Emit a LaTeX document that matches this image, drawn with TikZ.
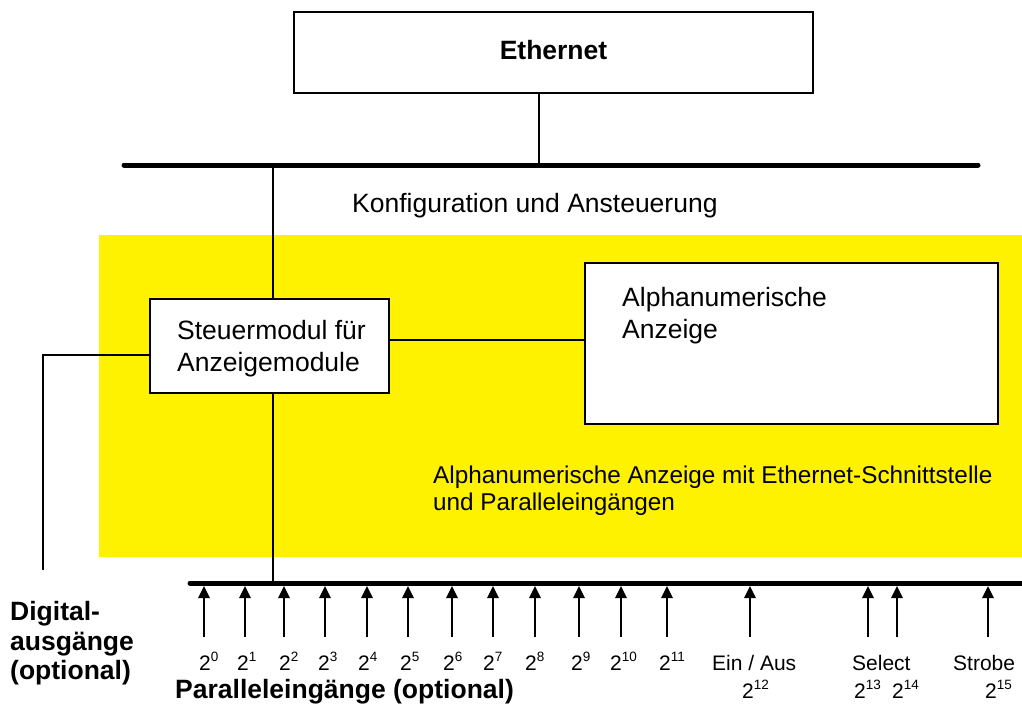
\documentclass[tikz,border=0pt]{standalone}
\usepackage{fontspec}
\setmainfont{Liberation Sans}
\usetikzlibrary{arrows.meta}
\newcommand\myexp[1]{\raisebox{0.42em}{\fontsize{13.5}{13.5}\selectfont #1}}
\begin{document}
\begin{tikzpicture}[x=1pt,y=-1pt,
  conn/.style={line width=2pt},
  bus/.style={line width=5pt,line cap=round},
  boxst/.style={draw,line width=2.6pt,fill=white,inner sep=0pt},
  txt/.style={font=\fontsize{26.5}{32}\selectfont,inner sep=0pt},
  lbl/.style={font=\fontsize{21}{25}\selectfont,inner sep=0pt,anchor=base west},
  boldlbl/.style={font=\fontsize{26.5}{30}\selectfont\bfseries,inner sep=0pt,anchor=base west},
  inarrow/.style={line width=2.6pt,-{Triangle[length=12pt,width=11pt]}}]
\useasboundingbox (0,0) rectangle (1022,706);
% yellow area
\fill[yellow] (99,235) rectangle (1022,557);
% Ethernet
\node[boxst,minimum width=519pt,minimum height=81pt] (eth) at (553.5,52.5) {};
\node[font=\fontsize{26.5}{30}\selectfont\bfseries,inner sep=0pt,anchor=base] (ethtxt) at (553.5,60) {Ethernet};
% top bus
\coordinate (tbL) at (124,165);
\coordinate (tbR) at (978,165);
\draw[bus] (tbL) -- (tbR);
\coordinate (ethdrop) at (539,165);
\draw[conn] (eth.south -| ethdrop) -- (ethdrop);
\node[txt,anchor=base west] (konf) at (352,212) {Konfiguration und Ansteuerung};
% Steuermodul
\node[boxst,minimum width=239pt,minimum height=94pt] (steuer) at (269.5,346) {};
\node[txt,anchor=base west] (steuer1) at (177,339) {Steuermodul für};
\node[txt,anchor=base west] (steuer2) at (177,371) {Anzeigemodule};
% Alphanumerische Anzeige box
\node[boxst,minimum width=413pt,minimum height=161pt] (alpha) at (791.5,343.5) {};
\node[txt,anchor=base west] (alpha1) at (622,306) {Alphanumerische};
\node[txt,anchor=base west] (alpha2) at (622,338) {Anzeige};
\node[font=\fontsize{24.3}{28}\selectfont,inner sep=0pt,anchor=base west] (group1) at (433,483) {Alphanumerische Anzeige mit Ethernet-Schnittstelle};
\node[font=\fontsize{24.3}{28}\selectfont,inner sep=0pt,anchor=base west] (group2) at (433,510) {und Paralleleingängen};
% bottom bus
\coordinate (bbL) at (190,583);
\coordinate (bbR) at (1024,583);
\draw[bus] (bbL) -- (bbR);
% connections of Steuermodul
\coordinate (up) at (273,165);
\coordinate (down) at (273,583);
\draw[conn] (up) -- (steuer.north -| up);
\draw[conn] (steuer.south -| down) -- (down);
\coordinate (sr) at (389,340);
\draw[conn] (steuer.east |- sr) -- (alpha.west |- sr);
\coordinate (dcorner) at (43,355);
\coordinate (dend) at (43,570);
\draw[conn] (steuer.west |- dcorner) -- (dcorner) -- (dend);
% Digitalausgaenge label
\node[boldlbl] (digi1) at (10,620) {Digital-};
\node[boldlbl] (digi2) at (10,650) {ausgänge};
\node[boldlbl] (digi3) at (10,679) {(optional)};
\node[boldlbl] (par) at (175,698) {Paralleleingänge (optional)};
% input arrows
\foreach \xx/\n [count=\i] in {204/0,245/1,284/2,325/3,367/4,408/5,452/6,493/7,535/8,579/9,621/10,667/11}{
  \coordinate (a\i) at (\xx,637);
  \coordinate (b\i) at (\xx,586);
  \draw[inarrow] (a\i) -- (b\i);
}
\foreach \xx/\n [count=\i] in {199/0,237/1,279/2,318/3,358/4,400/5,443/6,483/7,525/8,571/9,610/10,659/11}{
  \node[lbl] (l\i) at (\xx,670) {2\myexp{\n}};
}
\foreach \xx/\n in {750/13,868/14,897/15,988/16}{
  \coordinate (a\n) at (\xx,637);
  \coordinate (b\n) at (\xx,586);
  \draw[inarrow] (a\n) -- (b\n);
}
\node[lbl] (ein) at (712,670) {Ein / Aus};
\node[lbl] (e12) at (742,698) {2\myexp{12}};
\node[lbl] (sel) at (852,670) {Select};
\node[lbl] (e13) at (854,698) {2\myexp{13}};
\node[lbl] (e14) at (892,698) {2\myexp{14}};
\node[lbl] (strobe) at (953,670) {Strobe};
\node[lbl] (e15) at (985,698) {2\myexp{15}};
\end{tikzpicture}
\end{document}
